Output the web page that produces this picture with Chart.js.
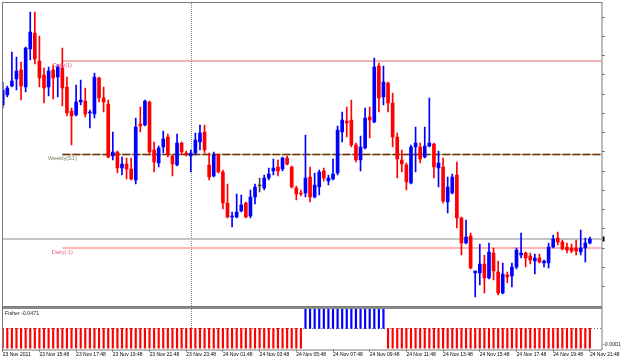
<!DOCTYPE html>
<html><head><meta charset="utf-8">
<script src="https://cdn.jsdelivr.net/npm/chart.js@4.4.1/dist/chart.umd.min.js"></script>
<style>
html,body{margin:0;padding:0;background:#fff;}
#wrap{position:relative;width:625px;height:360px;overflow:hidden;background:#fff;}
#main{position:absolute;left:0;top:0;}
#ind{position:absolute;left:0;top:307px;}
</style></head><body>
<div id="wrap"><canvas id="main" width="625" height="307"></canvas><canvas id="ind" width="625" height="53"></canvas></div>
<script>
// ---------- data (M15 bars, index 0 = 23 Nov 13:48) ----------
const open = [
1.3495,1.3505,1.3514,1.3521,1.3530,1.3513,1.3551,1.3567,1.3539,1.3525,
1.3513,1.3530,1.3523,1.3532,1.3513,1.3489,1.3485,1.3498,1.3499,1.3487,
1.3486,1.3522,1.3502,1.3496,1.3444,1.3448,1.3432,1.3436,1.3431,1.3420,
1.3476,1.3475,1.3498,1.3450,1.3437,1.3453,1.3463,1.3444,1.3435,1.3457,
1.3447,1.3444,1.3447,1.3458,1.3468,1.3435,1.3424,1.3445,1.3428,1.3397,
1.3383,1.3383,1.3389,1.3397,1.3384,1.3403,1.3414,1.3412,1.3422,1.3429,
1.3433,1.3431,1.3442,1.3433,1.3412,1.3407,1.3407,1.3423,1.3403,1.3413,
1.3429,1.3419,1.3421,1.3427,1.3468,1.3479,1.3480,1.3455,1.3440,1.3452,
1.3483,1.3478,1.3534,1.3503,1.3517,1.3497,1.3463,1.3440,1.3435,1.3417,
1.3453,1.3453,1.3443,1.3454,1.3456,1.3432,1.3433,1.3398,1.3407,1.3425,
1.3382,1.3357,1.3364,1.3327,1.3327,1.3336,1.3322,1.3347,1.3328,1.3307,
1.3325,1.3324,1.3333,1.3345,1.3347,1.3344,1.3339,1.3342,1.3337,1.3337,
1.3353,1.3362,1.3358,1.3353,1.3352,1.3352,1.3348,1.3352,1.3357
];
const high = [
1.3518,1.3514,1.3548,1.3543,1.3538,1.3553,1.3588,1.3588,1.3564,1.3532,
1.3533,1.3535,1.3535,1.3552,1.3523,1.3492,1.3515,1.3520,1.3512,1.3490,
1.3527,1.3523,1.3513,1.3500,1.3468,1.3449,1.3443,1.3442,1.3442,1.3482,
1.3493,1.3500,1.3499,1.3458,1.3454,1.3469,1.3466,1.3445,1.3466,1.3458,
1.3449,1.3450,1.3467,1.3475,1.3475,1.3447,1.3448,1.3446,1.3430,1.3416,
1.3388,1.3406,1.3405,1.3398,1.3410,1.3416,1.3422,1.3425,1.3432,1.3441,
1.3440,1.3443,1.3444,1.3434,1.3414,1.3410,1.3465,1.3433,1.3427,1.3430,
1.3432,1.3425,1.3441,1.3474,1.3488,1.3493,1.3500,1.3457,1.3464,1.3492,
1.3493,1.3542,1.3537,1.3534,1.3518,1.3507,1.3467,1.3450,1.3437,1.3455,
1.3473,1.3457,1.3473,1.3502,1.3457,1.3449,1.3442,1.3423,1.3426,1.3438,
1.3383,1.3380,1.3367,1.3329,1.3356,1.3345,1.3357,1.3352,1.3339,1.3337,
1.3328,1.3337,1.3352,1.3367,1.3348,1.3347,1.3346,1.3346,1.3340,1.3357,
1.3365,1.3368,1.3360,1.3357,1.3356,1.3360,1.3370,1.3362,1.3363
];
const low = [
1.3492,1.3503,1.3513,1.3510,1.3500,1.3508,1.3540,1.3536,1.3513,1.3497,
1.3504,1.3501,1.3503,1.3494,1.3484,1.3455,1.3484,1.3495,1.3483,1.3472,
1.3482,1.3498,1.3488,1.3442,1.3440,1.3427,1.3425,1.3421,1.3420,1.3416,
1.3468,1.3474,1.3445,1.3428,1.3433,1.3447,1.3443,1.3424,1.3434,1.3445,
1.3444,1.3428,1.3445,1.3450,1.3447,1.3420,1.3423,1.3427,1.3391,1.3382,
1.3373,1.3382,1.3388,1.3382,1.3382,1.3396,1.3408,1.3410,1.3420,1.3425,
1.3424,1.3429,1.3435,1.3412,1.3400,1.3404,1.3403,1.3398,1.3402,1.3405,
1.3419,1.3415,1.3420,1.3425,1.3458,1.3463,1.3453,1.3438,1.3429,1.3451,
1.3462,1.3477,1.3488,1.3495,1.3488,1.3453,1.3422,1.3428,1.3410,1.3416,
1.3428,1.3437,1.3442,1.3453,1.3422,1.3413,1.3397,1.3387,1.3406,1.3372,
1.3345,1.3356,1.3331,1.3303,1.3315,1.3307,1.3321,1.3320,1.3305,1.3306,
1.3317,1.3313,1.3331,1.3342,1.3333,1.3336,1.3326,1.3337,1.3333,1.3332,
1.3352,1.3355,1.3350,1.3347,1.3347,1.3345,1.3345,1.3338,1.3356
];
const close = [
1.3510,1.3512,1.3519,1.3529,1.3514,1.3552,1.3568,1.3541,1.3522,1.3512,
1.3529,1.3522,1.3533,1.3512,1.3487,1.3484,1.3498,1.3500,1.3486,1.3488,
1.3523,1.3502,1.3498,1.3443,1.3448,1.3432,1.3436,1.3431,1.3421,1.3473,
1.3474,1.3499,1.3448,1.3438,1.3452,1.3461,1.3446,1.3436,1.3457,1.3448,
1.3446,1.3447,1.3460,1.3467,1.3450,1.3423,1.3445,1.3428,1.3397,1.3383,
1.3384,1.3388,1.3395,1.3383,1.3403,1.3413,1.3414,1.3422,1.3426,1.3432,
1.3429,1.3442,1.3436,1.3413,1.3406,1.3406,1.3422,1.3403,1.3415,1.3428,
1.3422,1.3422,1.3426,1.3470,1.3480,1.3477,1.3455,1.3440,1.3453,1.3482,
1.3480,1.3533,1.3502,1.3518,1.3497,1.3463,1.3441,1.3436,1.3418,1.3453,
1.3457,1.3441,1.3454,1.3457,1.3433,1.3437,1.3399,1.3413,1.3423,1.3382,
1.3357,1.3363,1.3332,1.3329,1.3336,1.3322,1.3348,1.3329,1.3307,1.3326,
1.3323,1.3333,1.3350,1.3347,1.3342,1.3340,1.3342,1.3338,1.3339,1.3353,
1.3361,1.3358,1.3351,1.3350,1.3349,1.3349,1.3352,1.3357,1.3361
];
const fisher = [
-1,-1,-1,-1,-1,-1,-1,-1,-1,-1,
-1,-1,-1,-1,-1,-1,-1,-1,-1,-1,
-1,-1,-1,-1,-1,-1,-1,-1,-1,-1,
-1,-1,-1,-1,-1,-1,-1,-1,-1,-1,
-1,-1,-1,-1,-1,-1,-1,-1,-1,-1,
-1,-1,-1,-1,-1,-1,-1,-1,-1,-1,
-1,-1,-1,-1,-1,-1, 1, 1, 1, 1,
 1, 1, 1, 1, 1, 1, 1, 1, 1, 1,
 1, 1, 1, 1,-1,-1,-1,-1,-1,-1,
-1,-1,-1,-1,-1,-1,-1,-1,-1,-1,
-1,-1,-1,-1,-1,-1,-1,-1,-1,-1,
-1,-1,-1,-1,-1,-1,-1,-1,-1,-1,
-1,-1,-1,-1,-1,-1,-1,-1,-1
];
const fisherTitle = 'Fisher -0.0471';
const fisherScaleLabel = '-0.0001';
const levelNames  = ['Daily(1)', 'Weekly(S1)', 'Daily(-1)'];
const levelValues = [1.3539, 1.34455, 1.3352];
const levelStart  = [13, 13, 13];
const bidPrice = 1.3361;
const separatorIndex = 41;
const priceTicks = [1.35827,1.35635,1.35442,1.3525,1.35057,1.34865,1.34672,1.3448,1.34287,1.34095,1.33902,1.3371,1.33517,1.33325,1.33132];
const timeTickIndex  = [0,8,16,24,32,40,48,56,64,72,80,88,96,104,112,120,128];
const timeTickLabels = ['23 Nov 2011','23 Nov 15:48','23 Nov 17:48','23 Nov 19:48','23 Nov 21:48','23 Nov 23:48',
  '24 Nov 01:48','24 Nov 03:48','24 Nov 05:48','24 Nov 07:48','24 Nov 09:48','24 Nov 11:48','24 Nov 13:48',
  '24 Nov 15:48','24 Nov 17:48','24 Nov 19:48','24 Nov 21:48'];

// ---------- styling ----------
const X_MIN = 0.062, X_MAX = 130.53;
const BULL = '#0000ff', BEAR = '#ff0000', DOJI = '#404040';
const FONT = '"Liberation Sans", Arial, sans-serif';
Chart.defaults.font.family = FONT;
const candleColor = i => close[i] > open[i] ? BULL : (close[i] < open[i] ? BEAR : DOJI);
const idx = open.map((_, i) => i);

function lineDs(v, from, color, width, dash, order) {
  return { type: 'line', data: [{x: from, y: v}, {x: X_MAX, y: v}], borderColor: color, borderWidth: width,
    borderDash: dash || [], pointRadius: 0, fill: false, order: order };
}

const mainDecor = {
  id: 'mainDecor',
  beforeDatasetsDraw(chart) {
    const {ctx, chartArea: a, scales: {x}} = chart;
    ctx.save();
    const px = Math.round(x.getPixelForValue(separatorIndex)) + 0.5;
    ctx.strokeStyle = '#8a8a8a'; ctx.lineWidth = 1; ctx.setLineDash([1, 1]);
    ctx.beginPath(); ctx.moveTo(px, a.top); ctx.lineTo(px, a.bottom + 2); ctx.stroke();
    ctx.restore();
  },
  afterDraw(chart) {
    const {ctx, chartArea: a, scales: {x, y}} = chart;
    ctx.save();
    const colors = ['#e8507c', '#7c7c5c', '#e86488'];
    ctx.font = '5.6px ' + FONT; ctx.textAlign = 'center'; ctx.textBaseline = 'top';
    levelNames.forEach((n, k) => {
      ctx.fillStyle = colors[k];
      ctx.fillText(n, x.getPixelForValue(levelStart[k]), y.getPixelForValue(levelValues[k]) + 1.5);
    });
    ctx.fillStyle = '#000';
    ctx.fillRect(a.right + 1, y.getPixelForValue(bidPrice) - 2.5, 2, 5);
    ctx.strokeStyle = '#7a7a7a'; ctx.lineWidth = 1;
    ctx.strokeRect(2.5, 2.5, a.right - 2, a.bottom - 2);
    ctx.restore();
  }
};

new Chart(document.getElementById('main'), {
  type: 'bar',
  data: {
    datasets: [
      { data: idx.map(i => ({x: i, y: [open[i], close[i]]})), backgroundColor: c => candleColor(c.dataIndex),
        barThickness: 3, minBarLength: 1, grouped: false, order: 0 },
      { data: idx.map(i => ({x: i, y: [low[i], high[i]]})), backgroundColor: c => candleColor(c.dataIndex),
        barThickness: 1, grouped: false, order: 1 },
      lineDs(levelValues[0], levelStart[0], '#e06464', 1, null, 5),
      lineDs(levelValues[1], levelStart[1], '#a8d2a0', 1.6, null, 6),
      lineDs(levelValues[1], levelStart[1], '#7a2c04', 1.6, [8, 2], 5),
      lineDs(levelValues[2], levelStart[2], '#ff9c9c', 1.6, null, 5),
      lineDs(bidPrice, X_MIN, '#c4c4c4', 2, null, 7)
    ]
  },
  options: {
    responsive: false, animation: false, devicePixelRatio: 1,
    layout: { padding: { left: 3, top: 3, right: 0, bottom: 1 } },
    plugins: { legend: { display: false }, tooltip: { enabled: false } },
    scales: {
      x: { type: 'linear', min: X_MIN, max: X_MAX, offset: false, display: false, grid: { offset: false } },
      y: { type: 'linear', position: 'right', min: 1.3294, max: 1.3597, beginAtZero: false,
        afterBuildTicks: s => { s.ticks = priceTicks.map(v => ({value: v})); },
        afterFit: s => { s.width = 23.5; s.paddingTop = 0; s.paddingBottom = 0; },
        ticks: { display: false },
        grid: { drawOnChartArea: false, drawTicks: true, tickLength: 3, color: '#606060' },
        border: { display: false } }
    }
  },
  plugins: [mainDecor]
});

const indDecor = {
  id: 'indDecor',
  beforeDatasetsDraw(chart) {
    const {ctx, chartArea: a, scales: {x, y}} = chart;
    ctx.save();
    const px = Math.round(x.getPixelForValue(separatorIndex)) + 0.5;
    ctx.strokeStyle = '#8a8a8a'; ctx.lineWidth = 1; ctx.setLineDash([1, 1]);
    ctx.beginPath(); ctx.moveTo(px, 0); ctx.lineTo(px, a.bottom); ctx.stroke();
    const zy = Math.round(y.getPixelForValue(0)) + 0.5;
    ctx.strokeStyle = '#707070'; ctx.setLineDash([1, 2]);
    ctx.beginPath(); ctx.moveTo(a.left, zy); ctx.lineTo(a.right, zy); ctx.stroke();
    ctx.restore();
  },
  afterDraw(chart) {
    const {ctx, chartArea: a} = chart;
    ctx.save();
    ctx.fillStyle = '#202020';
    ctx.font = '5.3px ' + FONT; ctx.textBaseline = 'middle'; ctx.textAlign = 'left';
    ctx.fillText(fisherTitle, 5, 7);
    ctx.fillText(fisherScaleLabel, a.right + 1.5, 37.5);
    ctx.strokeStyle = '#8a8a8a'; ctx.lineWidth = 2;
    ctx.beginPath(); ctx.moveTo(2, 1); ctx.lineTo(a.right + 0.5, 1); ctx.stroke();
    ctx.strokeStyle = '#7a7a7a'; ctx.lineWidth = 1;
    ctx.beginPath();
    ctx.moveTo(2.5, 0); ctx.lineTo(2.5, a.bottom + 0.5);
    ctx.lineTo(a.right + 0.5, a.bottom + 0.5); ctx.lineTo(a.right + 0.5, 0);
    ctx.stroke();
    ctx.restore();
  }
};

new Chart(document.getElementById('ind'), {
  type: 'bar',
  data: {
    datasets: [
      { data: idx.map(i => ({x: i, y: fisher[i]})), backgroundColor: c => fisher[c.dataIndex] >= 0 ? BULL : BEAR,
        barThickness: 1.5, grouped: false }
    ]
  },
  options: {
    responsive: false, animation: false, devicePixelRatio: 1,
    layout: { padding: { left: 3, top: 1.5, right: 0, bottom: 0 } },
    plugins: { legend: { display: false }, tooltip: { enabled: false } },
    scales: {
      x: { type: 'linear', min: X_MIN, max: X_MAX, offset: false, position: 'bottom',
        afterBuildTicks: s => { s.ticks = timeTickIndex.map(v => ({value: v})); },
        afterFit: s => { s.height = 10.5; s.paddingLeft = 0; s.paddingRight = 0; },
        ticks: { autoSkip: false, maxRotation: 0, minRotation: 0, align: 'start', padding: 0,
          color: '#000', font: { size: 5 },
          callback: v => timeTickLabels[timeTickIndex.indexOf(v)] },
        grid: { offset: false, drawOnChartArea: false, drawTicks: true, tickLength: 2, color: '#404040' },
        border: { display: false } },
      y: { type: 'linear', position: 'right', min: -1.07, max: 1, beginAtZero: false,
        afterFit: s => { s.width = 23.5; s.paddingTop = 0; s.paddingBottom = 0; },
        ticks: { display: false }, grid: { display: false }, border: { display: false } }
    }
  },
  plugins: [indDecor]
});
</script>
</body></html>
